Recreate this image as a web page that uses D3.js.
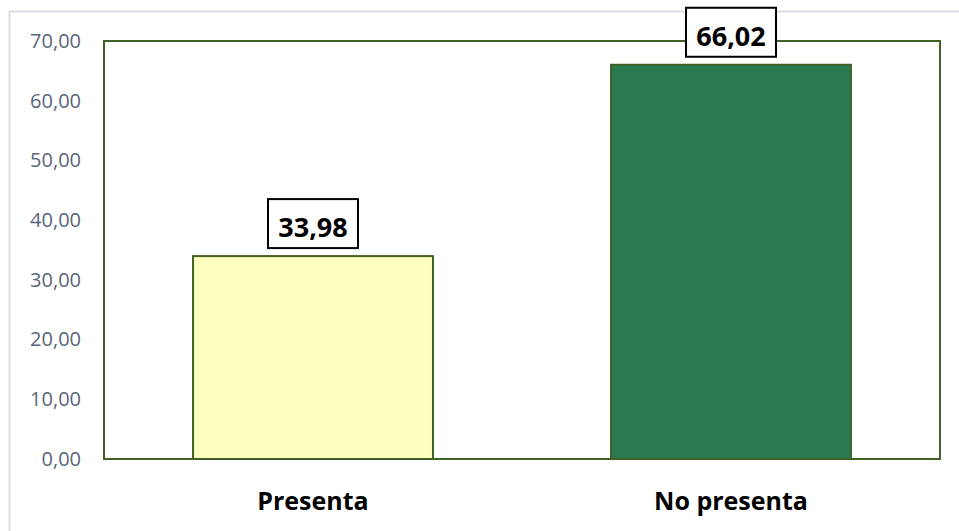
<!DOCTYPE html>
<html><head><meta charset="utf-8">
<script src="https://cdn.jsdelivr.net/npm/d3@7"></script>
<style>body{margin:0;background:#fff;}svg{display:block;font-family:"Open Sans",Lato,sans-serif;}</style>
</head><body><svg id="c" width="959" height="531"></svg>
<script>
const categories = ["Presenta", "No presenta"];
const values = [33.98, 66.02];
const colors = ["#ffffc0", "#2a7a50"];
const yTicks = [0, 10, 20, 30, 40, 50, 60, 70];

const svg = d3.select("#c");
const m = {l:104, t:41, r:940, b:459};
// outer frame
svg.append("rect").attr("x",9.5).attr("y",11.5).attr("width",980).attr("height",560)
  .attr("fill","#fff").attr("stroke","#d9dde4").attr("stroke-width",2);

const x = d3.scaleBand().domain(categories).range([m.l, m.r]).paddingInner(0.426).paddingOuter(0.213);
const y = d3.scaleLinear().domain([0,70]).range([m.b, m.t]);

const fmt = v => d3.format(".2f")(v).replace(".", ",");

// y axis labels
const ya = svg.append("g").attr("transform",`translate(${m.l},0)`)
  .call(d3.axisLeft(y).tickValues(yTicks).tickFormat(fmt).tickSize(0).tickPadding(23));
ya.select(".domain").remove();
ya.selectAll("text").attr("font-size",20).attr("fill","#596579").attr("font-family","'Open Sans',sans-serif");

// bars
svg.selectAll("rect.bar").data(values).join("rect").attr("class","bar")
  .attr("x",(d,i)=>x(categories[i])).attr("width",x.bandwidth())
  .attr("y",d=>y(d)).attr("height",d=>y(0)-y(d))
  .attr("fill",(d,i)=>colors[i]).attr("stroke","#3f6126").attr("stroke-width",2);

// plot border
svg.append("rect").attr("x",m.l).attr("y",m.t).attr("width",m.r-m.l).attr("height",m.b-m.t)
  .attr("fill","none").attr("stroke","#3f6126").attr("stroke-width",2);

// x labels
const xa = svg.append("g").attr("transform",`translate(0,${m.b})`)
  .call(d3.axisBottom(x).tickSize(0));
xa.select(".domain").remove();
xa.selectAll("text").attr("y",51).attr("dy",0).attr("font-size",25).attr("font-weight","bold").attr("fill","#000").attr("font-family","'Open Sans',sans-serif");

// data labels
const lg = svg.selectAll("g.lab").data(values).join("g").attr("class","lab")
  .attr("transform",(d,i)=>`translate(${x(categories[i])+x.bandwidth()/2},${y(d)-8})`);
lg.append("rect").attr("x",-45).attr("y",-49).attr("width",90).attr("height",49)
  .attr("fill","#fff").attr("stroke","#000").attr("stroke-width",2);
lg.append("text").attr("text-anchor","middle").attr("y",-11).attr("font-size",27).attr("font-weight","bold")
  .attr("fill","#000").text(d=>fmt(d));
</script></body></html>
